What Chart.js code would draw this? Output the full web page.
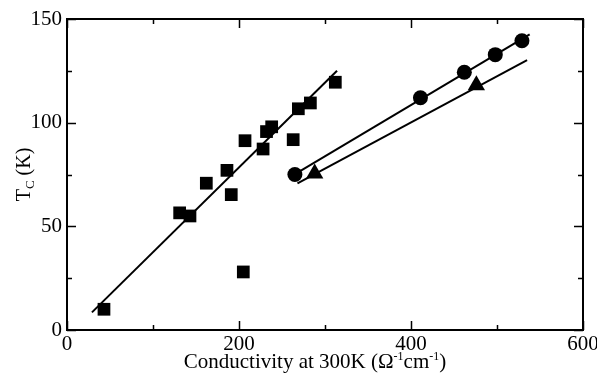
<!DOCTYPE html>
<html>
<head>
<meta charset="utf-8">
<script src="https://cdn.jsdelivr.net/npm/chart.js@4/dist/chart.umd.min.js"></script>
<style>
  html, body { margin: 0; padding: 0; background: #fff; }
  #wrap { width: 597px; height: 384px; }
</style>
</head>
<body>
<div id="wrap"><canvas id="tc"></canvas></div>
<script>
// Données
const xSquares = [43, 131, 143, 162, 186, 191, 205, 207, 228, 232, 238, 263, 269, 283, 312];
const ySquares = [10, 56.5, 55, 70.8, 77, 65.3, 28, 91.3, 87.3, 95.7, 98, 91.8, 106.7, 109.5, 119.5];

const xCircles = [265, 411, 462, 498, 529];
const yCircles = [75, 112, 124.3, 132.8, 139.5];

const xTriangles = [288, 476];
const yTriangles = [75.5, 118];

// Droites d'ajustement (extrémités)
const sqFitX = [29, 314];
const sqFitY = [8.5, 125];
const circFitX = [271, 538];
const circFitY = [76.6, 142.6];
const triFitX = [268, 535];
const triFitY = [70.7, 130.2];

// Graduations
const xTicks = [0, 200, 400, 600];
const xMinor = [100, 300, 500];
const yTicks = [0, 50, 100, 150];
const yMinor = [25, 75, 125];

const pts = (xs, ys) => xs.map((x, i) => ({ x: x, y: ys[i] }));

const serif = '"Liberation Serif", "DejaVu Serif", serif';

// Cadre, graduations internes et titres dessinés à la main
const framePlugin = {
    id: 'frame',
    afterDraw(chart) {
        const ctx = chart.ctx;
        const a = chart.chartArea;
        const xs = chart.scales.x;
        const ys = chart.scales.y;
        ctx.save();
        ctx.strokeStyle = '#000';
        ctx.lineWidth = 2;
        ctx.strokeRect(a.left, a.top, a.right - a.left, a.bottom - a.top);

        const tickX = (v, len) => {
            const p = Math.round(xs.getPixelForValue(v)) + 0.5;
            ctx.beginPath();
            ctx.moveTo(p, a.bottom); ctx.lineTo(p, a.bottom - len);
            ctx.moveTo(p, a.top); ctx.lineTo(p, a.top + len);
            ctx.stroke();
        };
        const tickY = (v, len) => {
            const p = Math.round(ys.getPixelForValue(v)) + 0.5;
            ctx.beginPath();
            ctx.moveTo(a.left, p); ctx.lineTo(a.left + len, p);
            ctx.moveTo(a.right, p); ctx.lineTo(a.right - len, p);
            ctx.stroke();
        };
        ctx.lineWidth = 1.5;
        xTicks.forEach(v => tickX(v, 9));
        xMinor.forEach(v => tickX(v, 5));
        yTicks.forEach(v => tickY(v, 9));
        yMinor.forEach(v => tickY(v, 5));

        ctx.fillStyle = '#000';
        ctx.font = '21px ' + serif;
        ctx.textAlign = 'center';
        ctx.textBaseline = 'top';
        xTicks.forEach(v => ctx.fillText(String(v), xs.getPixelForValue(v), a.bottom + 4));
        ctx.textAlign = 'right';
        ctx.textBaseline = 'middle';
        yTicks.forEach(v => ctx.fillText(String(v), a.left - 5, ys.getPixelForValue(v)));

        // Titre axe X avec exposants
        const parts = [
            ['Conductivity at 300K (Ω', 21, 0],
            ['-1', 12, -8],
            ['cm', 21, 0],
            ['-1', 12, -8],
            [')', 21, 0],
        ];
        let total = 0;
        parts.forEach(p => { ctx.font = p[1] + 'px ' + serif; total += ctx.measureText(p[0]).width; });
        let cx = 315 - total / 2;
        ctx.textAlign = 'left';
        ctx.textBaseline = 'alphabetic';
        parts.forEach(p => {
            ctx.font = p[1] + 'px ' + serif;
            ctx.fillText(p[0], cx, 368 + p[2]);
            cx += ctx.measureText(p[0]).width;
        });

        // Titre axe Y : T_C (K)
        ctx.translate(30, (a.top + a.bottom) / 2);
        ctx.rotate(-Math.PI / 2);
        const yparts = [['T', 20, 0], ['C', 13, 4], [' (K)', 20, 0]];
        total = 0;
        yparts.forEach(p => { ctx.font = p[1] + 'px ' + serif; total += ctx.measureText(p[0]).width; });
        cx = -total / 2;
        yparts.forEach(p => {
            ctx.font = p[1] + 'px ' + serif;
            ctx.fillText(p[0], cx, p[2]);
            cx += ctx.measureText(p[0]).width;
        });
        ctx.restore();
    }
};

const lineStyle = {
    showLine: true,
    borderColor: '#000',
    borderWidth: 2,
    pointRadius: 0,
    fill: false,
};

new Chart(document.getElementById('tc'), {
    type: 'scatter',
    data: {
        datasets: [
            Object.assign({ label: 'fit squares', data: pts(sqFitX, sqFitY) }, lineStyle),
            Object.assign({ label: 'fit circles', data: pts(circFitX, circFitY) }, lineStyle),
            Object.assign({ label: 'fit triangles', data: pts(triFitX, triFitY) }, lineStyle),
            {
                label: 'squares',
                data: pts(xSquares, ySquares),
                pointStyle: 'rect',
                pointRadius: 9,
                backgroundColor: '#000',
                borderColor: '#000',
                borderWidth: 0,
            },
            {
                label: 'circles',
                data: pts(xCircles, yCircles),
                pointStyle: 'circle',
                pointRadius: 7.5,
                backgroundColor: '#000',
                borderColor: '#000',
                borderWidth: 0,
            },
            {
                label: 'triangles',
                data: pts(xTriangles, yTriangles),
                pointStyle: 'triangle',
                pointRadius: 10,
                backgroundColor: '#000',
                borderColor: '#000',
                borderWidth: 0,
            },
        ],
    },
    options: {
        responsive: true,
        maintainAspectRatio: false,
        animation: false,
        layout: { padding: { left: 67, right: 14, top: 19, bottom: 54 } },
        plugins: {
            legend: { display: false },
            tooltip: { enabled: false },
        },
        scales: {
            x: { type: 'linear', min: 0, max: 600, display: false },
            y: { type: 'linear', min: 0, max: 150, display: false },
        },
    },
    plugins: [framePlugin],
});
</script>
</body>
</html>
